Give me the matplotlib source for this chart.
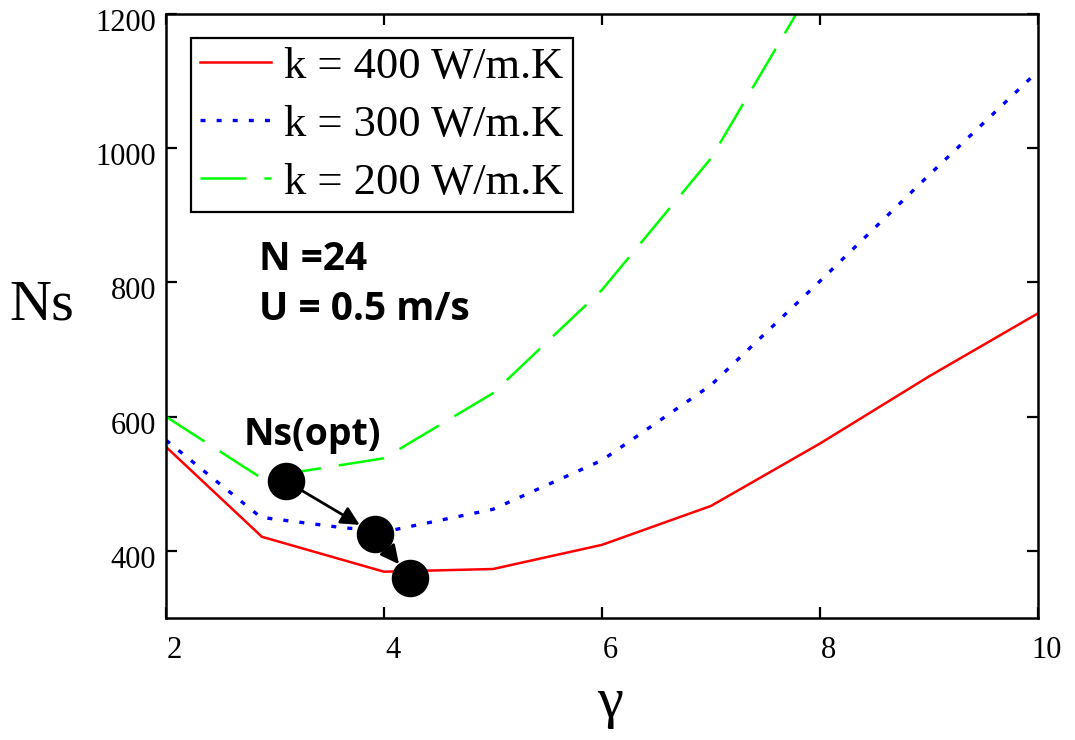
import matplotlib
matplotlib.use("Agg")
import matplotlib.pyplot as plt
import matplotlib.transforms as mtransforms

# ---- data ----
gamma_400 = [2, 2.88, 4, 5, 6, 7, 8, 9, 10]
ns_400 = [555, 421, 369, 373, 409, 467, 560, 660, 754]

gamma_300 = [2, 2.87, 3.65, 4.05, 5, 6, 7, 8, 9, 10]
ns_300 = [565, 450, 434, 430, 462, 535, 647, 802, 960, 1115]

gamma_200 = [2, 2.87, 4, 5, 6, 7, 8]
ns_200 = [600, 509, 538, 635, 789, 985, 1260]

opt_gamma = [3.10, 3.92, 4.24]
opt_ns = [504, 425, 359]

labels = ["k = 400 W/m.K", "k = 300 W/m.K", "k = 200 W/m.K"]
x_ticks = [2, 4, 6, 8, 10]
y_ticks = [400, 600, 800, 1000, 1200]

plt.rcParams['lines.scale_dashes'] = False

W, H = 1075, 740
fig = plt.figure(figsize=(W / 100, H / 100), dpi=100)
ax = fig.add_axes([166 / W, 1 - 618 / H, (1038 - 166) / W, (618 - 14) / H])

ax.plot(gamma_400, ns_400, color='#ff0000', lw=1.8, solid_joinstyle='miter', label=labels[0])
ax.plot(gamma_300, ns_300, color='#0000ff', lw=2.4, linestyle=(0, (3.6, 8.0)), label=labels[1])
ax.plot(gamma_200, ns_200, color='#00ff00', lw=1.8, linestyle=(0, (33, 13)), label=labels[2])

ax.set_xlim(2, 10)
ax.set_ylim(300, 1200)

serif = "Liberation Serif"
ax.set_xticks(x_ticks)
ax.set_yticks(y_ticks)
ax.set_xticklabels([str(v) for v in x_ticks], fontfamily=serif, fontsize=22)
ax.set_yticklabels([str(v) for v in y_ticks], fontfamily=serif, fontsize=22)
ax.tick_params(direction='in', length=8, width=1.6, top=True, right=True)
ax.tick_params(axis='x', pad=13)
ax.tick_params(axis='y', pad=7)
for lab in ax.get_xticklabels():
    lab.set_transform(lab.get_transform() + mtransforms.ScaledTranslation(8.5 / 100, 0, fig.dpi_scale_trans))
for lab in ax.get_yticklabels():
    lab.set_transform(lab.get_transform() + mtransforms.ScaledTranslation(0, -6 / 100, fig.dpi_scale_trans))
for s in ax.spines.values():
    s.set_linewidth(1.8)

# axis labels
fig.text(42 / W, 1 - 320 / H, "Ns", fontfamily=serif, fontsize=42, ha='center', va='baseline')
fig.text(610 / W, 1 - 717 / H, "γ", fontfamily=serif, fontsize=42, ha='center', va='baseline')

# legend
leg = ax.legend(loc='upper left', bbox_to_anchor=(25 / 872, 1 - 24 / 604), prop={'family': serif, 'size': 32},
                frameon=True, fancybox=False, framealpha=1, edgecolor='black', handlelength=1.6,
                handletextpad=0.3, labelspacing=0.4, borderpad=0.2, borderaxespad=0)
leg.get_frame().set_linewidth(1.6)

# annotations
bold = "Open Sans"
fig.text(259 / W, 1 - 270 / H, "N =24", fontfamily=bold, fontweight='bold', fontsize=28, va='baseline')
fig.text(259 / W, 1 - 320 / H, "U = 0.5 m/s", fontfamily=bold, fontweight='bold', fontsize=28, va='baseline')
fig.text(244 / W, 1 - 445 / H, "Ns(opt)", fontfamily=bold, fontweight='bold', fontsize=27, va='baseline')

ax.plot(opt_gamma, opt_ns, 'o', color='black', markersize=26, zorder=5)
for i in range(len(opt_gamma) - 1):
    ax.annotate("", xy=(opt_gamma[i + 1], opt_ns[i + 1]), xytext=(opt_gamma[i], opt_ns[i]),
                arrowprops=dict(arrowstyle='-|>', color='black', lw=2, mutation_scale=28,
                                shrinkA=13, shrinkB=13), zorder=6)

fig.savefig("out.png", dpi=100)
